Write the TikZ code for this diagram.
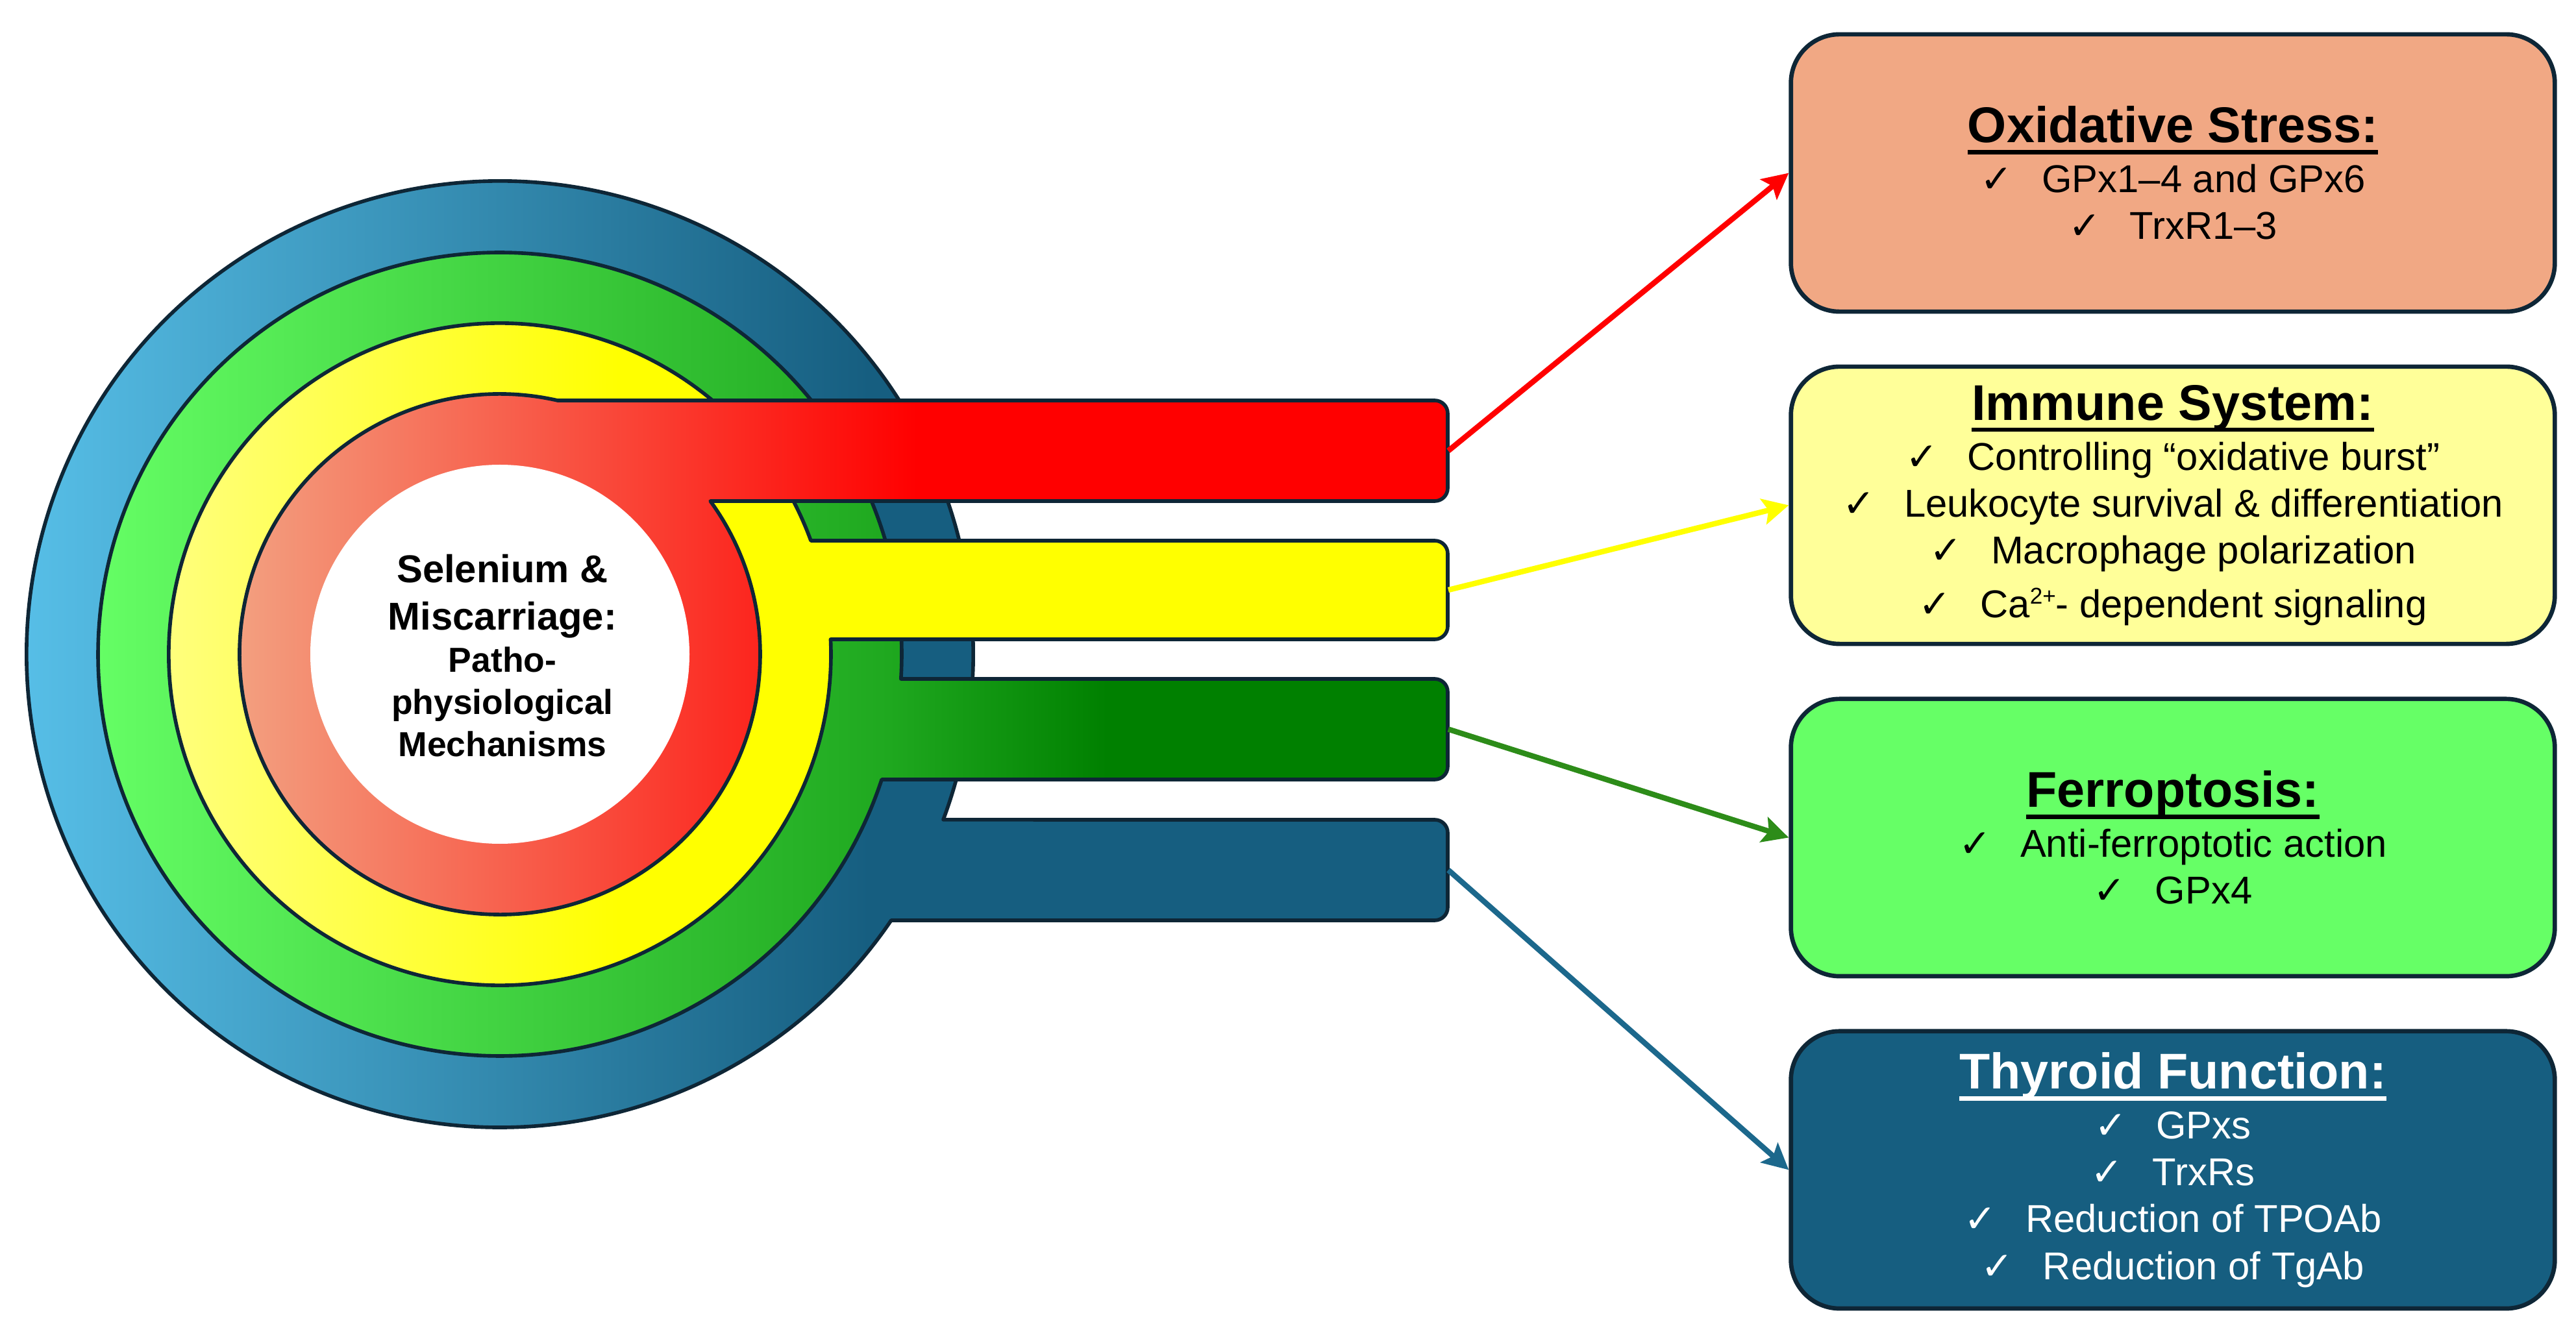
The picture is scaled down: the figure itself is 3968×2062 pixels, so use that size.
\documentclass[tikz,border=0pt]{standalone}
\usepackage{fontspec}
\setmainfont{Liberation Sans}
\newfontfamily\tickfont{DejaVu Sans}
\usepackage{xcolor}
\usepackage{tikz}
\usetikzlibrary{arrows.meta,positioning,calc}

\definecolor{salmonlite}{RGB}{242,165,132}
\definecolor{redfull}{RGB}{255,0,0}
\definecolor{yellowlite}{RGB}{255,255,136}
\definecolor{yellowfull}{RGB}{255,255,0}
\definecolor{greenlite}{RGB}{102,255,102}
\definecolor{greenmid}{RGB}{31,168,31}
\definecolor{greendark}{RGB}{0,128,0}
\definecolor{bluelite}{RGB}{91,197,238}
\definecolor{bluedark}{RGB}{22,94,128}
\definecolor{edgeblue}{RGB}{14,38,54}
\definecolor{oxfill}{RGB}{241,168,132}
\definecolor{immfill}{RGB}{255,255,153}
\definecolor{ferfill}{RGB}{102,255,102}
\definecolor{thyfill}{RGB}{22,94,128}
\definecolor{greenarrow}{RGB}{45,140,25}
\definecolor{bluearrow}{RGB}{28,104,140}

% horizontal fades, path box runs from 25bp to 75bp
\pgfdeclarehorizontalshading{redring}{100bp}{color(0bp)=(salmonlite); color(25bp)=(salmonlite); color(53.5bp)=(redfull); color(100bp)=(redfull)}
\pgfdeclarehorizontalshading{yellowring}{100bp}{color(0bp)=(yellowlite); color(25bp)=(yellowlite); color(43.75bp)=(yellowfull); color(100bp)=(yellowfull)}
\pgfdeclarehorizontalshading{greenring}{100bp}{color(0bp)=(greenlite); color(25bp)=(greenlite); color(54.5bp)=(greenmid); color(62.5bp)=(greendark); color(100bp)=(greendark)}
\pgfdeclarehorizontalshading{bluering}{100bp}{color(0bp)=(bluelite); color(25bp)=(bluelite); color(55.5bp)=(bluedark); color(100bp)=(bluedark)}

\newcommand{\chk}{{\tickfont ✓}\hspace{0.75em}}
\newcommand{\ultitle}[1]{{\bfseries\fontsize{22}{20.5}\selectfont\setbox0\hbox{#1}\rlap{\rule[-5.2pt]{\wd0}{1.9pt}}\box0}}

\begin{document}
\begin{tikzpicture}[
  x=0.01cm, y=0.01cm,
  ringline/.style={draw=edgeblue, line width=1.6pt, line join=round},
  panel/.style={draw=edgeblue, line width=1.9pt, rounded corners=0.75cm, minimum width=11.76cm, minimum height=4.27cm, align=center, inner sep=0pt, font=\fontsize{17}{20.5}\selectfont},
  link/.style={line width=2.4pt, -{Stealth[length=4mm, width=4mm, inset=0.8mm]}},
  hubtext/.style={align=center, font=\bfseries\fontsize{15.2}{18.5}\selectfont}
]
\useasboundingbox (0,0) rectangle (3968,2062);
\coordinate (ctr) at (770,1054);

% rings with their bars, outermost first
\draw[ringline, shading=bluering] ($(ctr)+(-20.47:729)$) arc[start angle=-20.47, end angle=325.78, radius=729]
  -- (2210,644) arc[start angle=-90, end angle=0, radius=20] -- (2230,779) arc[start angle=0, end angle=90, radius=20] -- cycle;
\draw[ringline, shading=greenring] ($(ctr)+(-3.52:619)$) arc[start angle=-3.52, end angle=341.83, radius=619]
  -- (2210,861) arc[start angle=-90, end angle=0, radius=20] -- (2230,996) arc[start angle=0, end angle=90, radius=20] -- cycle;
\draw[ringline, shading=yellowring] ($(ctr)+(20.07:510)$) arc[start angle=20.07, end angle=362.585, radius=510]
  -- (2210,1077) arc[start angle=-90, end angle=0, radius=20] -- (2230,1209) arc[start angle=0, end angle=90, radius=20] -- cycle;
\draw[ringline, shading=redring] ($(ctr)+(77.18:401)$) arc[start angle=77.18, end angle=396.05, radius=401]
  -- (2210,1290) arc[start angle=-90, end angle=0, radius=20] -- (2230,1425) arc[start angle=0, end angle=90, radius=20] -- cycle;
\fill[white] (ctr) circle[radius=292];

\node[hubtext] (hub) at (774,1052) {{\fontsize{17}{20.8}\selectfont Selenium \&}\\[2.3pt]{\fontsize{17}{20.8}\selectfont Miscarriage:}\\Patho-\\physiological\\Mechanisms};

% bar ends
\coordinate (redend) at (2231,1367.5);
\coordinate (yellowend) at (2231,1153);
\coordinate (greenend) at (2231,938.5);
\coordinate (blueend) at (2231,721.5);

% panels
\node[panel, fill=oxfill] (oxid) at (3347,1795.5) {\ultitle{Oxidative Stress:}\\[1.5pt]\chk GPx1–4 and GPx6\\\chk TrxR1–3};
\node[panel, fill=immfill, below=0.78cm of oxid] (immune) {\ultitle{Immune System:}\\[1.5pt]\chk Controlling “oxidative burst”\\\chk Leukocyte survival \& differentiation\\\chk Macrophage polarization\\[3pt]\chk Ca{\fontsize{10}{10}\selectfont\raisebox{6pt}{2+}}- dependent signaling};
\node[panel, fill=ferfill, below=0.78cm of immune] (ferro) {\ultitle{Ferroptosis:}\\[1.5pt]\chk Anti-ferroptotic action\\\chk GPx4};
\node[panel, fill=thyfill, text=white, below=0.78cm of ferro] (thyroid) {\ultitle{Thyroid Function:}\\[1.5pt]\chk GPxs\\\chk TrxRs\\\chk Reduction of TPOAb\\\chk Reduction of TgAb};

\draw[link, redfull] (redend) -- (oxid.west);
\draw[link, yellowfull] (yellowend) -- (immune.west);
\draw[link, greenarrow] (greenend) -- (ferro.west);
\draw[link, bluearrow] (blueend) -- (thyroid.west);
\end{tikzpicture}
\end{document}
